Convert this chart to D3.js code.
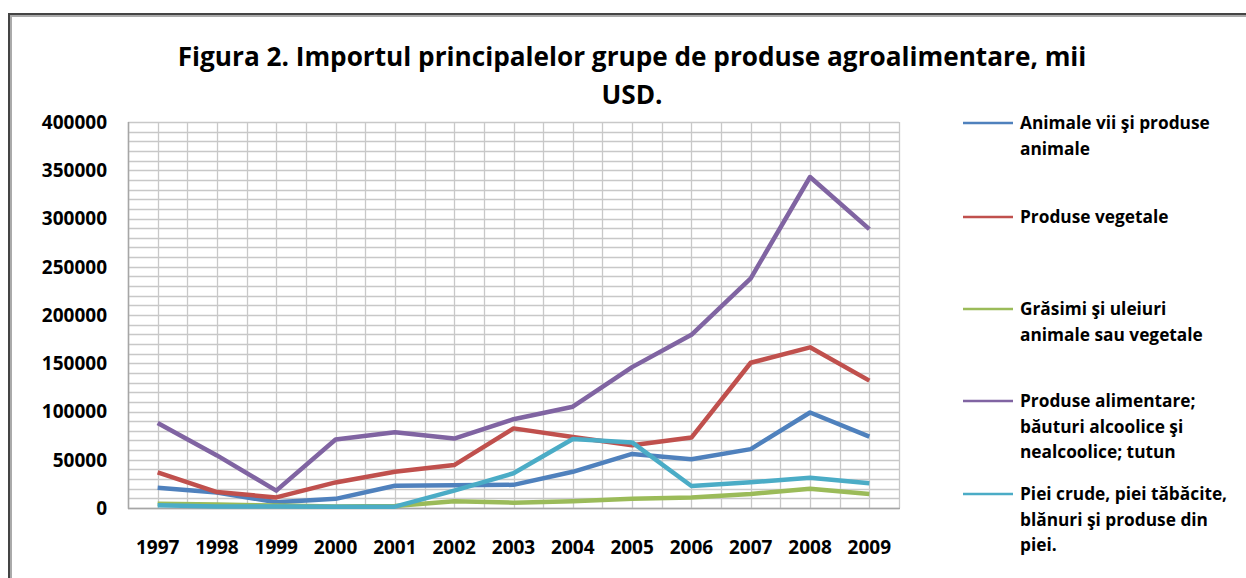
<!DOCTYPE html>
<html>
<head>
<meta charset="utf-8">
<script src="https://cdn.jsdelivr.net/npm/d3@7"></script>
<style>
  body { margin: 0; background: #fff; }
  text { font-family: "Open Sans", Lato, sans-serif; font-weight: 700; fill: #000; }
</style>
</head>
<body>
<div id="chart"></div>
<script>
// years on the x axis
var years = ["1997", "1998", "1999", "2000", "2001", "2002", "2003", "2004", "2005", "2006", "2007", "2008", "2009"];
var yTicks = [0, 50000, 100000, 150000, 200000, 250000, 300000, 350000, 400000];

// values, mii USD
var animale = [21000, 16000, 6000, 9500, 23000, 23500, 24000, 37500, 56000, 50500, 61000, 99000, 74000];
var vegetale = [37000, 16500, 11000, 26500, 37500, 44500, 82500, 73500, 65000, 73000, 150500, 166500, 132000];
var grasimi = [4400, 3500, 2500, 1500, 2000, 7000, 5500, 7000, 9700, 11000, 14500, 20000, 14500];
var alimentare = [88000, 54500, 18000, 71000, 78500, 72000, 92000, 105000, 146000, 179500, 238000, 343000, 289000];
var piei = [2800, 1500, 1500, 1400, 1400, 18000, 36000, 71500, 68000, 22800, 26600, 31400, 25600];

var seriesNames = [
  ["Animale vii şi produse", "animale"],
  ["Produse vegetale"],
  ["Grăsimi şi uleiuri", "animale sau vegetale"],
  ["Produse alimentare;", "băuturi alcoolice şi", "nealcoolice; tutun"],
  ["Piei crude, piei tăbăcite,", "blănuri şi produse din", "piei."]
];
var seriesColors = ["#4F81BD", "#C0504D", "#9BBB59", "#8064A2", "#4BACC6"];
var seriesValues = [animale, vegetale, grasimi, alimentare, piei];

var width = 1246, height = 578;
// plot box (window.top is taken, so prefixed names)
var plotL = 128, plotR = 899, plotT = 122, plotB = 508;

var svg = d3.select("#chart").append("svg")
  .attr("width", width)
  .attr("height", height);

// outer frame
svg.append("rect")
  .attr("x", 9).attr("y", 14)
  .attr("width", width + 20).attr("height", height + 20)
  .attr("fill", "none")
  .attr("stroke", "#444")
  .attr("stroke-width", 2);
svg.append("rect")
  .attr("x", 11).attr("y", 16)
  .attr("width", width + 20).attr("height", height + 20)
  .attr("fill", "none")
  .attr("stroke", "#aaa")
  .attr("stroke-width", 2);

// title
var title = svg.append("text")
  .attr("x", 632)
  .attr("y", 66)
  .attr("text-anchor", "middle")
  .style("font-size", "24px")
  .text("Figura 2. Importul principalelor grupe de produse agroalimentare, mii");
var tw = title.node().getComputedTextLength();
var titleSize = 24 * 909 / tw;
title.style("font-size", titleSize + "px");
svg.append("text")
  .attr("x", 632)
  .attr("y", 104)
  .attr("text-anchor", "middle")
  .style("font-size", titleSize + "px")
  .text("USD.");

var x = d3.scaleBand().domain(years).range([plotL, plotR]).padding(0);
var y = d3.scaleLinear().domain([0, 400000]).range([plotB, plotT]);

// grid
var grid = svg.append("g");
grid.selectAll(".h")
  .data(d3.range(0, 400001, 10000))
  .enter().append("line")
  .attr("x1", plotL).attr("x2", plotR)
  .attr("y1", function(d) { return Math.round(y(d)) + 0.5; })
  .attr("y2", function(d) { return Math.round(y(d)) + 0.5; })
  .attr("stroke", "#c8c8c8")
  .attr("stroke-width", 1.3);

var vx = [];
years.forEach(function(yr) {
  vx.push(x(yr));
  vx.push(x(yr) + x.bandwidth() / 2);
});
vx.push(plotR);
grid.selectAll(".v")
  .data(vx)
  .enter().append("line")
  .attr("x1", function(d) { return Math.round(d) + 0.5; })
  .attr("x2", function(d) { return Math.round(d) + 0.5; })
  .attr("y1", plotT).attr("y2", plotB)
  .attr("stroke", "#c8c8c8")
  .attr("stroke-width", 1.3);

// axis lines
svg.append("line")
  .attr("x1", plotL + 0.5).attr("x2", plotL + 0.5)
  .attr("y1", plotT).attr("y2", plotB + 1)
  .attr("stroke", "#a6a6a6").attr("stroke-width", 1.5);
svg.append("line")
  .attr("x1", plotL).attr("x2", plotR + 1)
  .attr("y1", plotB + 0.5).attr("y2", plotB + 0.5)
  .attr("stroke", "#a6a6a6").attr("stroke-width", 1.5);

// y labels
svg.selectAll(".ylab")
  .data(yTicks)
  .enter().append("text")
  .attr("x", 107)
  .attr("y", function(d) { return y(d); })
  .attr("dy", "0.36em")
  .attr("text-anchor", "end")
  .style("font-size", "19px")
  .text(function(d) { return d; });

// x labels
svg.selectAll(".xlab")
  .data(years)
  .enter().append("text")
  .attr("x", function(d) { return x(d) + x.bandwidth() / 2; })
  .attr("y", 547)
  .attr("dy", "0.36em")
  .attr("text-anchor", "middle")
  .style("font-size", "19px")
  .text(function(d) { return d; });

// lines
var line = d3.line()
  .x(function(d, i) { return x(years[i]) + x.bandwidth() / 2; })
  .y(function(d) { return y(d); });

svg.selectAll(".series")
  .data(seriesValues)
  .enter().append("path")
  .attr("d", line)
  .attr("fill", "none")
  .attr("stroke", function(d, i) { return seriesColors[i]; })
  .attr("stroke-width", 4.5)
  .attr("stroke-linejoin", "round");

// legend
var legendY = [123, 217, 309, 401, 494];
var lg = svg.selectAll(".legend")
  .data(seriesNames)
  .enter().append("g")
  .attr("transform", function(d, i) { return "translate(963," + legendY[i] + ")"; });
lg.append("line")
  .attr("x1", 0).attr("x2", 50)
  .attr("y1", 0).attr("y2", 0)
  .attr("stroke", function(d, i) { return seriesColors[i]; })
  .attr("stroke-width", 2.5);
lg.each(function(d) {
  var t = d3.select(this).append("text")
    .attr("x", 57)
    .attr("y", 0)
    .style("font-size", "17.3px");
  d.forEach(function(s, k) {
    t.append("tspan")
      .attr("x", 57)
      .attr("y", k * 25.5)
      .attr("dy", "0.36em")
      .text(s);
  });
});
</script>
</body>
</html>
